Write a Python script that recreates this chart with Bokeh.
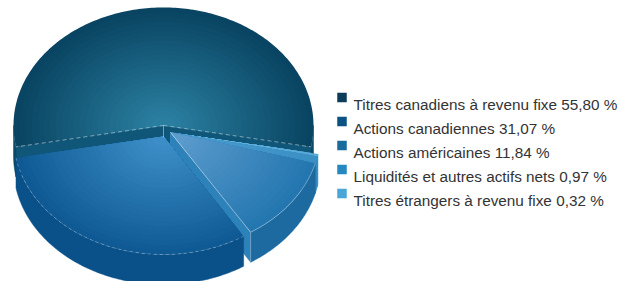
import numpy as np
from bokeh.plotting import figure
from bokeh.models import Range1d
from bokeh.core.properties import value
from bokeh.embed import file_html
from bokeh.resources import INLINE

# ---- data ----
labels = ["Titres canadiens à revenu fixe", "Actions canadiennes", "Actions américaines",
          "Liquidités et autres actifs nets", "Titres étrangers à revenu fixe"]
shares = [55.80, 31.07, 11.84, 0.97, 0.32]
legend_colors = ["#0b3d5a", "#0a5184", "#1a6a9e", "#2589c0", "#4aa6d8"]

# ---- style ----
CX, CY, RX, RY, DEPTH = 163.0, 125.0, 150.0, 118.0, 30.0
offsets = [(0, 0), (0, 11), (7, 7), (7, 7), (7, 7)]
top_inner = ["#2a7fa0", "#3d8ec8", "#5c9ccd", "#4a9ccf", "#6ab5e0"]
top_outer = ["#094462", "#0f5a94", "#2476b0", "#3a8fc4", "#55a8d8"]
wall_col = ["#0b4a68", "#0a5189", "#1c6aa0", "#3389c0", "#4a9fd2"]
cut_col = ["#105678", "#145f98", "#2e82ba", "#3d93c8", "#55a8d8"]

p = figure(width=621, height=281, x_range=Range1d(0, 621), y_range=Range1d(281, 0),
           output_backend="svg", toolbar_location=None, min_border=0)
p.axis.visible = False
p.grid.visible = False
p.outline_line_color = None
p.background_fill_color = "white"


def arc(cx, cy, t0, t1, s=1.0, n=None):
    if n is None:
        n = max(2, int(abs(t1 - t0)) + 2)
    t = np.radians(np.linspace(t0, t1, n))
    return cx + s * RX * np.cos(t), cy - s * RY * np.sin(t)


def mix(c1, c2, f):
    a = [int(c1[i:i + 2], 16) for i in (1, 3, 5)]
    b = [int(c2[i:i + 2], 16) for i in (1, 3, 5)]
    return "#%02x%02x%02x" % tuple(int(round(a[i] + (b[i] - a[i]) * f)) for i in range(3))


total = sum(shares)
spans = [v / total * 360.0 for v in shares]
start = 90.0 - spans[0] / 2.0
bounds = []
a = start
for sp in spans:
    bounds.append((a, a + sp))
    a += sp


def draw_slice(i):
    a0, a1 = bounds[i]
    cx, cy = CX + offsets[i][0], CY + offsets[i][1]
    xs, ys, cs = [], [], []
    # cut faces
    for ang, nrm in ((a0, a0 - 90), (a1, a1 + 90)):
        if np.sin(np.radians(nrm)) < 0:
            rx_, ry_ = arc(cx, cy, ang, ang, n=1)
            xs.append([cx, rx_[0], rx_[0], cx])
            ys.append([cy, ry_[0], ry_[0] + DEPTH, cy + DEPTH])
            cs.append(cut_col[i])
    # outer walls (front half)
    for k in (-1, 0, 1):
        lo, hi = max(a0, 180 + 360 * k), min(a1, 360 + 360 * k)
        if lo < hi:
            tx, ty = arc(cx, cy, lo, hi)
            xs.append(list(tx) + list(tx[::-1]))
            ys.append(list(ty) + list(ty[::-1] + DEPTH))
            cs.append(wall_col[i])
    if xs:
        p.patches(xs, ys, fill_color=cs, line_color=cs, line_width=0.5)
    # top face with radial shading
    N = 24
    xs, ys, cs = [], [], []
    for k in range(N):
        s = 1.0 - 0.96 * k / N
        tx, ty = arc(cx, cy, a0, a1, s=s)
        xs.append([cx] + list(tx))
        ys.append([cy] + list(ty))
        cs.append(mix(top_outer[i], top_inner[i], k / (N - 1)))
    p.patches(xs, ys, fill_color=cs, line_color=None)


for i in (0, 4, 3, 2, 1):
    draw_slice(i)

# light edges
a0, a1 = bounds[0]
for ang in (a0, a1):
    ex, ey = arc(CX, CY, ang, ang, n=1)
    p.line([CX, ex[0]], [CY, ey[0]], line_color="white", line_alpha=0.45,
           line_dash="4 3", line_width=1)
p.line([CX, CX], [CY, CY + 12], line_color="white", line_alpha=0.4, line_width=1)
b0, b1 = bounds[1]
bx, by = arc(CX + offsets[1][0], CY + offsets[1][1], b0, b1)
p.line(bx, by, line_color="white", line_alpha=0.3, line_dash="3 3", line_width=1)
c0, c1 = bounds[2]
lcx, lcy = CX + offsets[2][0], CY + offsets[2][1]
lx, ly = arc(lcx, lcy, c0, c1)
p.line(lx, ly, line_color="white", line_alpha=0.35, line_width=1)
p.line([lcx, lx[0]], [lcy, ly[0]], line_color="white", line_alpha=0.45, line_width=1)
p.line([lx[0], lx[0]], [ly[0], ly[0] + DEPTH], line_color="white", line_alpha=0.3, line_width=1)

# ---- legend ----
rows = [97 + 24 * i for i in range(len(labels))]
texts = [f"{lab} {v:.2f} %".replace(".", ",") for lab, v in zip(labels, shares)]
p.rect(x=[341.5] * len(rows), y=rows, width=9.5, height=9.5,
       fill_color=legend_colors, line_color=None)
p.text(x=[353] * len(rows), y=[r + 7 for r in rows], text=texts,
       text_font=value("Liberation Sans"), text_font_size="15.3px",
       text_baseline="alphabetic", text_color="#333333")

open("out.html", "w").write(file_html(p, INLINE))
